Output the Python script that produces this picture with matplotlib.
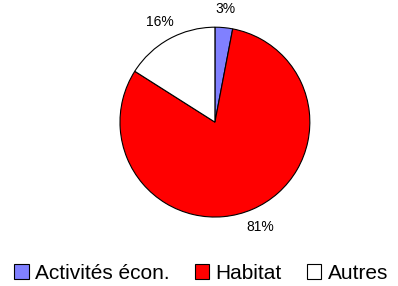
import matplotlib
matplotlib.use("Agg")
import matplotlib.pyplot as plt

# data
labels = ["Activités écon.", "Habitat", "Autres"]
values = [3, 81, 16]
colors = ["#8080FF", "#FF0000", "#FFFFFF"]

plt.rcParams['font.family'] = ['Liberation Sans', 'DejaVu Sans']

fig = plt.figure(figsize=(3.98, 2.86), dpi=100)
ax = fig.add_axes([0.3015, 0.241, 0.477, 0.664])

wedges, texts, autotexts = ax.pie(values, colors=colors, startangle=90, counterclock=False,
                                  autopct="%d%%", pctdistance=1.2,
                                  wedgeprops=dict(edgecolor="black", linewidth=0.8))
for t in autotexts:
    t.set_fontsize(10)
ax.set_xlim(-1, 1)
ax.set_ylim(-1, 1)
ax.set_aspect("equal")

fig.legend(wedges, labels, loc="center", bbox_to_anchor=(0.505, 0.045), ncol=3, frameon=False,
           fontsize=15, handlelength=0.7, handleheight=0.7, handletextpad=0.3, columnspacing=1.2)

plt.savefig("out.png", dpi=100)
